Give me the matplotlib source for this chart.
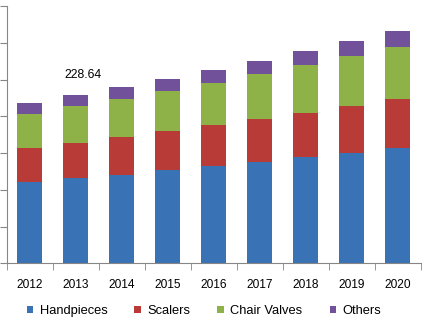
import matplotlib
matplotlib.use("Agg")
import matplotlib.pyplot as plt
import numpy as np
from matplotlib.patches import Patch

years = ["2012", "2013", "2014", "2015", "2016", "2017", "2018", "2019", "2020"]
handpieces = [110.9, 116.3, 120.0, 127.2, 132.6, 137.6, 144.4, 149.8, 157.0]
scalers = [46.2, 47.1, 52.0, 52.6, 55.3, 58.4, 59.8, 63.9, 66.2]
chair_valves = [45.8, 50.3, 51.2, 54.3, 57.1, 61.1, 65.2, 67.9, 70.6]
others = [14.9, 14.94, 16.3, 16.3, 17.7, 17.7, 19.0, 20.4, 21.7]
series_names = ["Handpieces", "Scalers", "Chair Valves", "Others"]
colors = ["#3A72B6", "#B93B38", "#8EB247", "#71519A"]
label_year = "2013"

plt.rcParams["font.family"] = ["Liberation Sans", "DejaVu Sans"]

fig = plt.figure(figsize=(4.25, 3.22), dpi=100)
ax = fig.add_axes([6.5 / 425, 58.7 / 322, 414 / 425, 257.3 / 322])

x = np.arange(len(years))
bottom = np.zeros(len(years))
for vals, c in zip([handpieces, scalers, chair_valves, others], colors):
    ax.bar(x, vals, width=0.565, bottom=bottom, color=c, linewidth=0)
    bottom += np.array(vals)

i = years.index(label_year)
ax.text(i + 0.16, bottom[i] + 27, f"{bottom[i]:.2f}", ha="center", va="center",
        fontsize=8.8, color="black")

ax.set_xlim(-0.5, len(years) - 0.5)
ax.set_ylim(0, 350)
ax.set_yticks(np.arange(0, 351, 50))
ax.set_yticklabels([])
ax.set_xticks(x)
ax.set_xticklabels(years, fontsize=8.6)
ax.set_xticks(np.arange(-0.5, len(years), 1), minor=True)
ax.tick_params(axis="x", which="major", length=0, pad=11)
ax.tick_params(axis="x", which="minor", length=5, color="#868686", direction="out")
ax.tick_params(axis="y", length=5, color="#868686", direction="out")

for s in ["top", "right"]:
    ax.spines[s].set_visible(False)
for s in ["left", "bottom"]:
    ax.spines[s].set_color("#868686")

handles = [Patch(facecolor=c, edgecolor="none") for c in colors]
fig.legend(handles, series_names, loc="center", bbox_to_anchor=(0.48, 11 / 322),
           ncol=4, frameon=False, fontsize=9.3, handlelength=0.5, handleheight=0.5,
           handletextpad=0.5, columnspacing=2.1)

fig.savefig("out.png", dpi=100)
